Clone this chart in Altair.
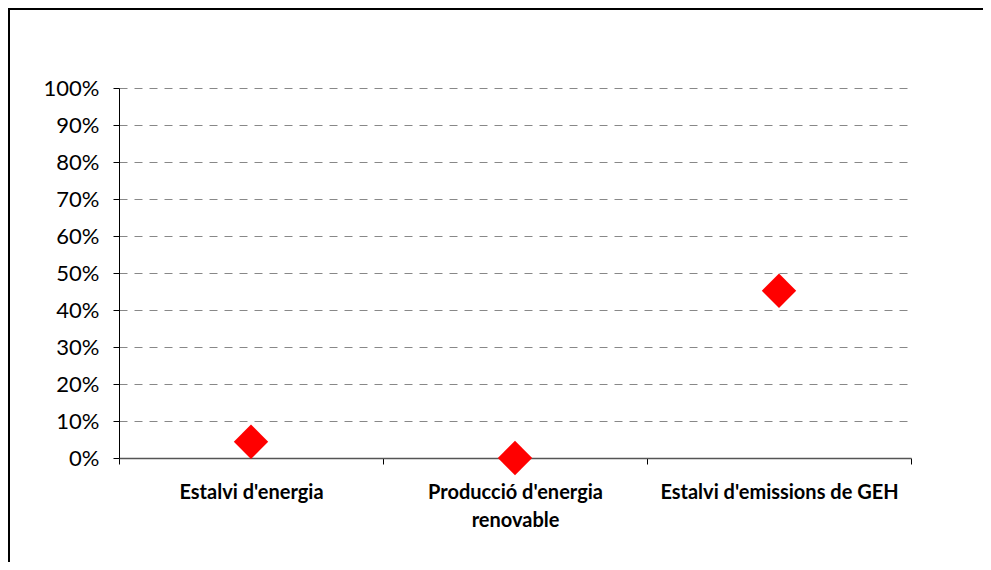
import altair as alt
import pandas as pd

categories = ["Estalvi d'energia", "Producció d'energia renovable", "Estalvi d'emissions de GEH"]
values = [0.044, 0.0, 0.452]
y_ticks = [0.0, 0.1, 0.2, 0.3, 0.4, 0.5, 0.6, 0.7, 0.8, 0.9, 1.0]

df = pd.DataFrame({"cat": categories, "val": values})

label_expr = (
    "datum.label == \"Producció d'energia renovable\" ? "
    "[\"Producció d'energia\", 'renovable'] : datum.label"
)

points = alt.Chart(df).mark_point(
    shape="diamond", filled=True, color="#FF0000", size=1180, opacity=1
).encode(
    x=alt.X(
        "cat:N",
        sort=categories,
        title=None,
        scale=alt.Scale(paddingInner=0, paddingOuter=0),
        axis=alt.Axis(
            labelAngle=0,
            labelExpr=label_expr,
            labelFont="Lato",
            labelFontSize=20,
            labelFontWeight="bold",
            labelColor="black",
            labelPadding=18,
            labelLineHeight=28,
            labelLimit=400,
            tickBand="extent",
            tickSize=6,
            tickColor="black",
            domainColor="#555555",
            domainWidth=1.5,
            grid=False,
        ),
    ),
    y=alt.Y(
        "val:Q",
        title=None,
        scale=alt.Scale(domain=[0, 1], nice=False),
        axis=alt.Axis(
            values=y_ticks,
            format=".0%",
            labelFont="Lato",
            labelFontSize=22,
            labelColor="black",
            labelPadding=14,
            tickSize=6,
            tickColor="black",
            domainColor="black",
            grid=True,
            gridColor="#888888",
            gridDash=[8, 7],
            gridWidth=1,
        ),
    ),
)

frame_src = pd.DataFrame({"k": [0]})
frame_left = alt.Chart(frame_src).mark_rule(color="black", strokeWidth=2).encode(
    x=alt.value(-110),
    y=alt.value(-80),
    y2=alt.value(474),
)
frame_top = alt.Chart(frame_src).mark_rule(color="black", strokeWidth=2).encode(
    x=alt.value(-111),
    x2=alt.value(864),
    y=alt.value(-79),
)

chart = alt.layer(frame_left, frame_top, points).properties(
    width=792,
    height=370,
    autosize=alt.AutoSizeParams(type="none"),
    padding={"left": 111, "top": 80, "right": 72, "bottom": 104},
).configure_view(stroke=None)

chart.save("out.html", embed_options={"renderer": "svg", "actions": False})
